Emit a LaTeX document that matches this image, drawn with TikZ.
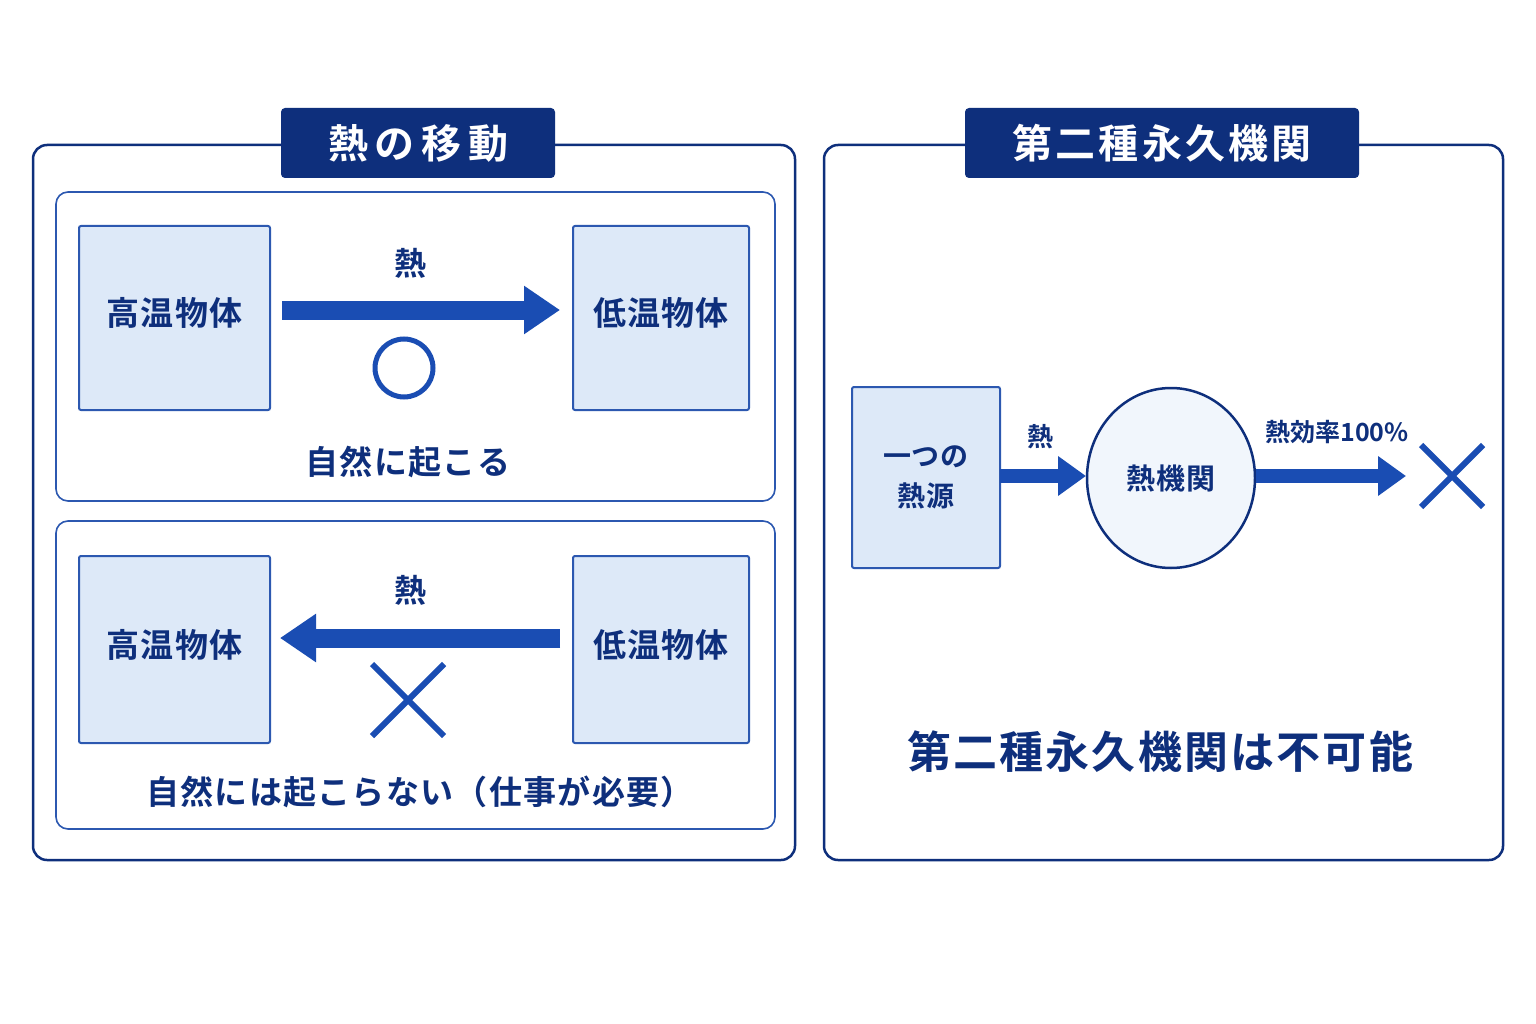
\documentclass[tikz,border=0pt]{standalone}
\usepackage{fontspec}
\setmainfont{Noto Sans CJK JP Bold}
\usetikzlibrary{arrows.meta,calc,shapes.geometric}
\definecolor{navy}{HTML}{0E2F7C}
\definecolor{mblue}{HTML}{1A4DB3}
\definecolor{lfill}{HTML}{DDE9F8}
\definecolor{bord}{HTML}{2C58B0}
\begin{document}
\begin{tikzpicture}[x=1pt,y=-1pt,
 panel/.style={draw=navy,line width=2.5pt,rounded corners=14pt},
 inner/.style={draw=bord,line width=1.6pt,rounded corners=12pt},
 obj/.style={draw=bord,fill=lfill,line width=2pt,rounded corners=2pt},
 tab/.style={fill=navy,rounded corners=4pt,text=white,font=\fontsize{40}{42}\selectfont\addfontfeature{LetterSpace=8}},
 lab/.style={text=navy,font=\fontsize{33}{36}\selectfont\addfontfeature{LetterSpace=4}},
 arr/.style={mblue,line width=19pt,-{Triangle[length=36pt,width=46pt]}},
 sarr/.style={mblue,line width=14pt,-{Triangle[length=28pt,width=38pt]}},
 xmark/.style={mblue,line width=6pt}]
\useasboundingbox (0,0) rectangle (1536,1024);
\fill[white] (0,0) rectangle (1536,1024);
% left panel
\draw[panel] (33,145) rectangle (795,860);
\node[tab,minimum width=274pt,minimum height=70pt] (t1) at (418,143) {熱\,の\,移\,動};
\draw[inner] (56,192) rectangle (775,501);
\draw[inner] (56,521) rectangle (775,829);
\node[obj,minimum width=191pt,minimum height=184pt] (h1) at (174.5,318) {};
\node[lab] at ($(h1)+(0,-5)$) {高温物体};
\node[obj,minimum width=176pt,minimum height=184pt] (c1) at (661,318) {};
\node[lab] at ($(c1)+(0,-5)$) {低温物体};
\coordinate (a1s) at (282,310); \coordinate (a1e) at (560,310);
\draw[arr] (a1s) -- (a1e);
\node[lab,font=\fontsize{32}{34}\selectfont] (q1) at (410,263) {熱};
\node[draw=mblue,line width=5pt,circle,minimum size=58pt] (o1) at (404,368) {};
\node[lab] (n1) at (408,462) {自然に起こる};
\node[obj,minimum width=191pt,minimum height=187pt] (h2) at (174.5,649.5) {};
\node[lab] at ($(h2)+(0,-5)$) {高温物体};
\node[obj,minimum width=176pt,minimum height=187pt] (c2) at (661,649.5) {};
\node[lab] at ($(c2)+(0,-5)$) {低温物体};
\coordinate (a2s) at (560,638); \coordinate (a2e) at (280,638);
\draw[arr] (a2s) -- (a2e);
\node[lab,font=\fontsize{32}{34}\selectfont] (q2) at (410,590) {熱};
\coordinate (x1) at (408,700);
\draw[xmark] ($(x1)+(-36,-36)$) -- ($(x1)+(36,36)$) ($(x1)+(36,-36)$) -- ($(x1)+(-36,36)$);
\node[lab] (n2) at (420,792) {自然には起こらない（仕事が必要）};
% right panel
\draw[panel] (824,145) rectangle (1503,860);
\node[tab,minimum width=394pt,minimum height=70pt] (t2) at (1162,143) {第二種永久機関};
\node[obj,minimum width=148pt,minimum height=181pt] (src) at (926,477.5) {};
\node[lab,align=center,font=\fontsize{28}{40}\selectfont\addfontfeature{LetterSpace=3}] at (src) {一つの\\熱源};
\node[draw=navy,fill=lfill!40,line width=2.5pt,ellipse,minimum width=168pt,minimum height=180pt] (eng) at (1171,478) {};
\node[lab,font=\fontsize{29}{32}\selectfont\addfontfeature{LetterSpace=3}] at (eng) {熱機関};
\coordinate (a3s) at (1000,476); \coordinate (a3e) at (1086,476);
\draw[sarr] (a3s) -- (a3e);
\node[lab,font=\fontsize{26}{28}\selectfont] (q3) at (1040,437) {熱};
\coordinate (a4s) at (1256,476); \coordinate (a4e) at (1406,476);
\draw[sarr] (a4s) -- (a4e);
\node[lab,font=\fontsize{25}{28}\selectfont] (q4) at (1337,432) {熱効率100\%};
\coordinate (x2) at (1452,476);
\draw[xmark] ($(x2)+(-31,-31)$) -- ($(x2)+(31,31)$) ($(x2)+(31,-31)$) -- ($(x2)+(-31,31)$);
\node[lab,font=\fontsize{44}{48}\selectfont\addfontfeature{LetterSpace=5}] (fin) at (1160,752) {第二種永久機関は不可能};
\end{tikzpicture}
\end{document}
